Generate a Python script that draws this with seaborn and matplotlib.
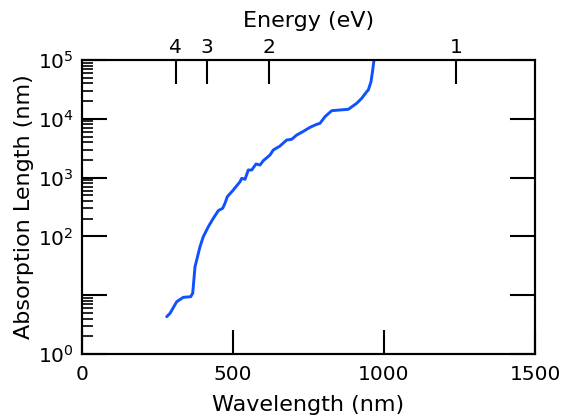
import numpy as np
import pandas as pd
import matplotlib
matplotlib.use("Agg")
import matplotlib.pyplot as plt
from matplotlib.ticker import FixedLocator, FuncFormatter, NullFormatter
import seaborn as sns

# Absorption length of silicon versus wavelength
wavelength_nm = [280.5, 291.4, 313.6, 335.4, 359.9, 366.6, 374.2, 379.8, 390.7, 401.7,
                 418.2, 434.8, 451.3, 465.9, 473.5, 481.1, 501.0, 523.2, 528.8, 539.7,
                 550.7, 561.9, 576.2, 589.4, 600.3, 622.5, 633.4, 655.6, 677.8, 694.4,
                 710.9, 727.5, 755.0, 777.2, 788.1, 804.6, 826.8, 854.3, 881.8, 909.6,
                 926.2, 942.7, 948.0, 957.0, 962.6, 966.9]
absorption_length_nm = [4.31, 4.92, 7.75, 9.2, 9.43, 10.8, 30.5, 39.7, 66.8, 98.9,
                        146, 203, 274, 301, 366, 473, 615, 851, 973, 935,
                        1346, 1346, 1703, 1637, 1937, 2421, 2946, 3445, 4359, 4480,
                        5300, 5890, 7160, 8055, 8375, 10860, 13740, 14120, 14510, 18360,
                        22330, 28900, 30900, 42740, 67600, 100000]

x_ticks = [0, 500, 1000, 1500]
y_decades = [1, 10, 100, 1000, 10000, 100000]
energy_ticks_ev = [4, 3, 2, 1]
HC_EV_NM = 1239.84

TICK_FS = 14.5
LABEL_FS = 16

df = pd.DataFrame({"wavelength": wavelength_nm, "length": absorption_length_nm})

sns.set_style("ticks")
plt.rcParams["font.family"] = ["DejaVu Sans"]
plt.rcParams["mathtext.fontset"] = "dejavusans"
for key in ["text.color", "axes.labelcolor", "xtick.color", "ytick.color",
            "xtick.labelcolor", "ytick.labelcolor", "axes.edgecolor"]:
    plt.rcParams[key] = "black"

fig = plt.figure(figsize=(5.72, 4.19), dpi=100)
ax = fig.add_axes([82 / 572, 1 - 354 / 419, (535 - 82) / 572, (354 - 60) / 419])

sns.lineplot(data=df, x="wavelength", y="length", ax=ax, color="#1050FF",
             linewidth=2.1, estimator=None, sort=False)

ax.set_yscale("log")
ax.set_xlim(0, 1500)
ax.set_ylim(1, 1e5)

# Major ticks: decades, the 10^1 label left blank
ax.yaxis.set_major_locator(FixedLocator(y_decades))
ax.yaxis.set_major_formatter(FuncFormatter(
    lambda v, p: "" if np.isclose(v, 10) else r"$10^{%d}$" % round(np.log10(v))))
# Minor ticks in every decade except 10..100
minor = [m * d for d in [1, 100, 1000, 10000] for m in range(2, 10)]
ax.yaxis.set_minor_locator(FixedLocator(minor))
ax.yaxis.set_minor_formatter(NullFormatter())

ax.xaxis.set_major_locator(FixedLocator(x_ticks))
ax.xaxis.set_minor_locator(FixedLocator([]))

ax.tick_params(axis="both", which="major", direction="in", length=17, width=1.5,
               labelsize=TICK_FS, pad=8, colors="black")
ax.tick_params(axis="y", which="major", left=True, right=True, length=18, pad=6)
ax.tick_params(axis="y", which="minor", direction="in", left=True, right=False,
               length=8, width=1.2, colors="black")
ax.tick_params(axis="x", which="major", top=False)

for s in ax.spines.values():
    s.set_linewidth(1.5)
    s.set_color("black")

ax.set_xlabel("Wavelength (nm)", fontsize=LABEL_FS, labelpad=8, color="black")
ax.set_ylabel("Absorption Length (nm)", fontsize=LABEL_FS, labelpad=3, color="black")

# Top axis: photon energy
ax_top = ax.twiny()
ax_top.set_xlim(ax.get_xlim())
ax_top.set_xticks([HC_EV_NM / e for e in energy_ticks_ev])
ax_top.set_xticklabels([str(e) for e in energy_ticks_ev])
ax_top.tick_params(axis="x", which="major", direction="in", length=17, width=1.5,
                   labelsize=TICK_FS, pad=2, colors="black")
ax_top.set_xlabel("Energy (eV)", fontsize=LABEL_FS, labelpad=8, color="black")
for s in ax_top.spines.values():
    s.set_linewidth(1.5)
    s.set_color("black")

fig.savefig("out.png", dpi=100)
